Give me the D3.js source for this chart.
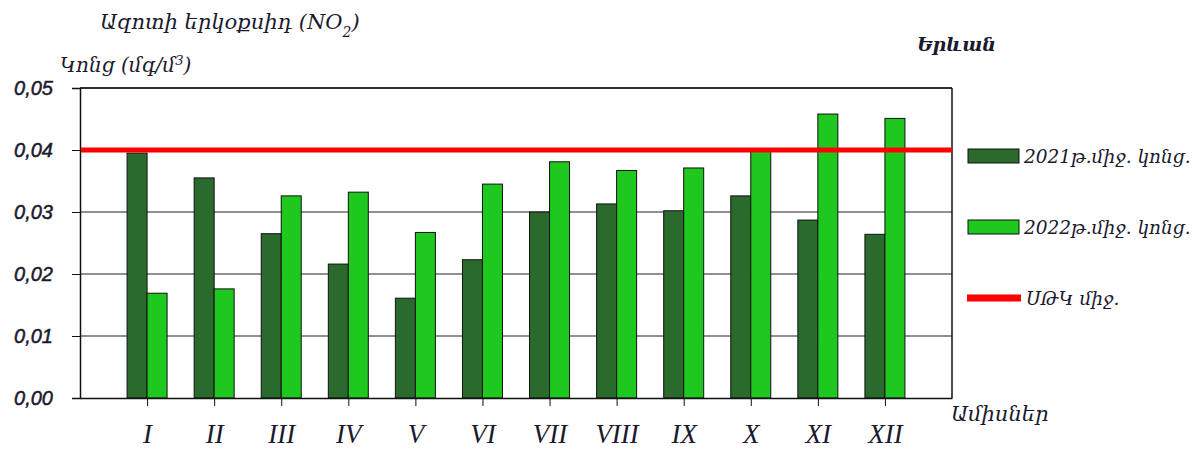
<!DOCTYPE html>
<html>
<head>
<meta charset="utf-8">
<script src="https://cdn.jsdelivr.net/npm/d3@7"></script>
<style>
  body { margin: 0; background: #fff; }
  text { fill: #1a1a2e; }
</style>
</head>
<body>
<div id="chart"></div>
<script>
// chart data
const months = ["I", "II", "III", "IV", "V", "VI", "VII", "VIII", "IX", "X", "XI", "XII"];
const values2021 = [0.0395, 0.0355, 0.0265, 0.0216, 0.0161, 0.0223, 0.0300, 0.0313, 0.0302, 0.0326, 0.0287, 0.0264];
const values2022 = [0.0169, 0.0176, 0.0326, 0.0332, 0.0267, 0.0345, 0.0381, 0.0367, 0.0371, 0.0398, 0.0458, 0.0451];
const limitValue = 0.04;
const yTicks = [0, 0.01, 0.02, 0.03, 0.04, 0.05];
const seriesNames = ["2021թ.միջ. կոնց.", "2022թ.միջ. կոնց."];
const limitName = "ՍԹԿ միջ.";

const width = 1203;
const height = 452;
const plot = {left: 80, right: 952, top: 88, bottom: 398};
const colors = ["#2b6a2d", "#1ec81e"];
const armFont = "'DejaVu Serif', serif";

const svg = d3.select("#chart")
  .append("svg")
  .attr("width", width)
  .attr("height", height);

// scales
const y = d3.scaleLinear()
  .domain([0, 0.05])
  .range([plot.bottom, plot.top]);

const x = d3.scalePoint()
  .domain(months)
  .range([plot.left, plot.right])
  .padding(1);

const xSeries = d3.scaleBand()
  .domain([0, 1])
  .range([-20, 20]);

const rows = months.map((m, i) => ({month: m, vals: [values2021[i], values2022[i]]}));

// gridlines
svg.append("g")
  .selectAll("line")
  .data(yTicks.slice(1))
  .enter()
  .append("line")
    .attr("x1", plot.left)
    .attr("x2", plot.right)
    .attr("y1", d => y(d))
    .attr("y2", d => y(d))
    .attr("stroke", "#222")
    .attr("stroke-width", 1);

// plot border on the right
svg.append("line")
  .attr("x1", plot.right).attr("x2", plot.right)
  .attr("y1", plot.top).attr("y2", plot.bottom)
  .attr("stroke", "#111").attr("stroke-width", 1.5);

// bars
const groups = svg.selectAll(".month")
  .data(rows)
  .enter()
  .append("g")
    .attr("class", "month")
    .attr("transform", d => `translate(${x(d.month)},0)`);

groups.selectAll("rect")
  .data(d => d.vals)
  .enter()
  .append("rect")
    .attr("x", (d, i) => xSeries(i))
    .attr("y", d => y(d))
    .attr("width", xSeries.bandwidth())
    .attr("height", d => y(0) - y(d))
    .attr("fill", (d, i) => colors[i])
    .attr("stroke", "#111")
    .attr("stroke-width", 1);

// y axis
const yAxis = svg.append("g")
  .attr("transform", `translate(${plot.left},0)`)
  .call(d3.axisLeft(y)
    .tickValues(yTicks)
    .tickSize(8)
    .tickPadding(19)
    .tickFormat(d => d3.format(".2f")(d).replace(".", ",")));
yAxis.select(".domain").attr("stroke", "#111").attr("stroke-width", 1.5);
yAxis.selectAll(".tick line").attr("stroke", "#111");
yAxis.selectAll("text")
  .attr("font-family", "'Liberation Sans', sans-serif")
  .attr("font-style", "italic")
  .attr("font-size", 20)
  .attr("fill", "#1a1a2e")
  .attr("stroke", "#1a1a2e")
  .attr("stroke-width", 0.5);

// x axis
const xAxis = svg.append("g")
  .attr("transform", `translate(0,${plot.bottom})`)
  .call(d3.axisBottom(x).tickSize(8).tickPadding(18).tickSizeOuter(0));
xAxis.select(".domain").attr("stroke", "#111").attr("stroke-width", 1.5);
xAxis.selectAll(".tick line").attr("stroke", "#111");
xAxis.selectAll("text")
  .attr("font-family", "'Liberation Serif', serif")
  .attr("font-style", "italic")
  .attr("font-size", 27)
  .attr("fill", "#1a1a2e");

// top border
svg.append("line")
  .attr("x1", plot.left).attr("x2", plot.right)
  .attr("y1", y(0.05)).attr("y2", y(0.05))
  .attr("stroke", "#111").attr("stroke-width", 1.5);

// limit line
svg.append("line")
  .attr("x1", plot.left + 1).attr("x2", plot.right)
  .attr("y1", y(limitValue)).attr("y2", y(limitValue))
  .attr("stroke", "#ff0000").attr("stroke-width", 5);

// titles
svg.append("text")
  .attr("x", 100).attr("y", 29)
  .attr("font-family", armFont).attr("font-style", "italic").attr("font-size", 21)
  .html("Ազոտի երկօքսիդ (NO<tspan baseline-shift='sub' font-size='14'>2</tspan>)");

svg.append("text")
  .attr("x", 60).attr("y", 72)
  .attr("font-family", armFont).attr("font-style", "italic").attr("font-size", 20)
  .html("Կոնց (մգ/մ<tspan baseline-shift='super' font-size='13'>3</tspan>)");

svg.append("text")
  .attr("x", 917).attr("y", 51)
  .attr("font-family", armFont).attr("font-style", "italic").attr("font-weight", "bold")
  .attr("font-size", 19)
  .text("Երևան");

svg.append("text")
  .attr("x", 951).attr("y", 421)
  .attr("font-family", armFont).attr("font-style", "italic").attr("font-size", 21)
  .text("Ամիսներ");

// legend
const legendY = [156, 227];
const legend = svg.append("g");
seriesNames.forEach((name, i) => {
  legend.append("rect")
    .attr("x", 968).attr("y", legendY[i] - 7)
    .attr("width", 51).attr("height", 14)
    .attr("fill", colors[i])
    .attr("stroke", "#111").attr("stroke-width", 1);
  legend.append("text")
    .attr("x", 1024).attr("y", legendY[i] + 7)
    .attr("font-family", armFont).attr("font-style", "italic").attr("font-size", 18.5)
    .text(name);
});
legend.append("line")
  .attr("x1", 967).attr("x2", 1021)
  .attr("y1", 298).attr("y2", 298)
  .attr("stroke", "#ff0000").attr("stroke-width", 7);
legend.append("text")
  .attr("x", 1026).attr("y", 305)
  .attr("font-family", armFont).attr("font-style", "italic").attr("font-size", 18.5)
  .text(limitName);
</script>
</body>
</html>
